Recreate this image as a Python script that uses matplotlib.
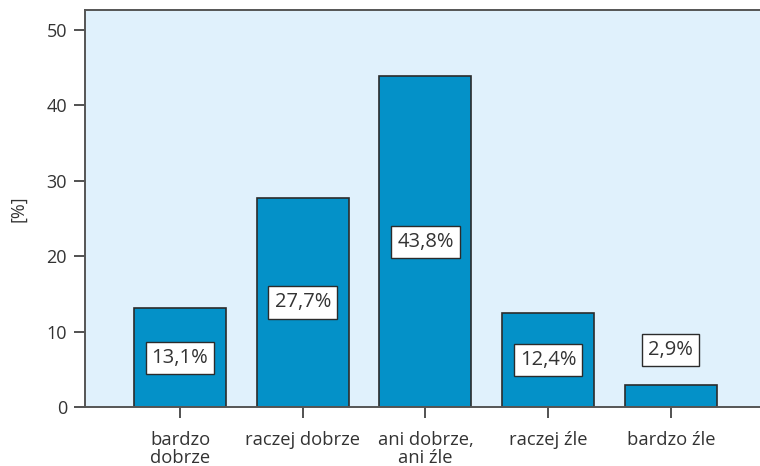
import matplotlib.pyplot as plt
import numpy as np

plt.rcParams['font.family'] = ['Open Sans', 'DejaVu Sans']

categories = ['bardzo\ndobrze', 'raczej dobrze', 'ani dobrze,\nani źle', 'raczej źle', 'bardzo źle']
values = [13.1, 27.7, 43.8, 12.4, 2.9]
labels = ['13,1%', '27,7%', '43,8%', '12,4%', '2,9%']
yticks = [0, 10, 20, 30, 40, 50]

txt = '#333333'
fig = plt.figure(figsize=(7.6, 4.66), dpi=100)
ax = fig.add_axes([0.1118, 0.1266, 0.8882, 0.8519])
ax.set_facecolor('#E0F1FC')

x = np.arange(len(values))
ax.bar(x, values, width=0.75, color='#0491C8', edgecolor='#2b2b2b', linewidth=1.2, zorder=2)

for xi, v, lab in zip(x, values, labels):
    # small bars get their label above the bar
    ypos = v / 2 if v > 5 else v + 4.6
    ax.text(xi, ypos, lab, ha='center', va='center', fontsize=14.5, color=txt, zorder=3,
            bbox=dict(boxstyle='square,pad=0.3', facecolor='white', edgecolor='#2b2b2b', linewidth=1))

ax.set_xlim(-0.774, 4.726)
ax.set_ylim(0, 52.6)
ax.set_yticks(yticks)
ax.set_xticks(x)
ax.set_xticklabels(categories, fontsize=13.2, color=txt, linespacing=1.0)
ax.tick_params(axis='y', labelsize=13, colors=txt, length=8, width=1.2, pad=5)
ax.tick_params(axis='x', length=8, width=1.2, pad=9, colors='#333333')
ax.set_ylabel('[%]', fontsize=13, color=txt, labelpad=14)

for s in ['left', 'bottom', 'top']:
    ax.spines[s].set_color('#555555')
    ax.spines[s].set_linewidth(1.4)
ax.spines['right'].set_visible(False)

fig.savefig('out.png', dpi=100)
